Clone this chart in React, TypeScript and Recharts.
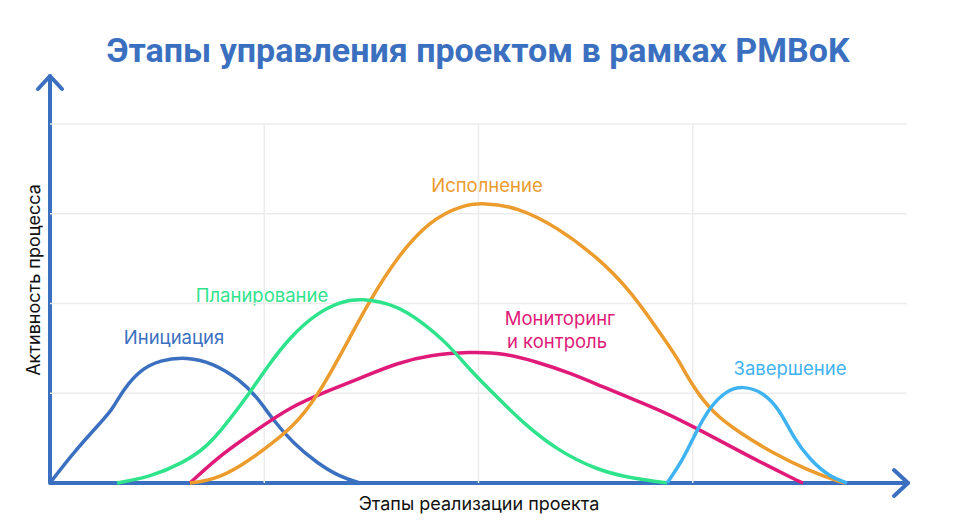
import { LineChart, Line, XAxis, YAxis, ReferenceLine } from 'recharts'

// chart values (x: stage position 0..4, y: activity)
const initiation = [
  { x: 0, y: 0 },
  { x: 0.107, y: 0.334 },
  { x: 0.247, y: 0.702 },
  { x: 0.289, y: 0.813 },
  { x: 0.341, y: 1.036 },
  { x: 0.42, y: 1.259 },
  { x: 0.513, y: 1.37 },
  { x: 0.639, y: 1.404 },
  { x: 0.761, y: 1.337 },
  { x: 0.887, y: 1.148 },
  { x: 0.966, y: 0.958 },
  { x: 1.041, y: 0.702 },
  { x: 1.134, y: 0.446 },
  { x: 1.246, y: 0.223 },
  { x: 1.354, y: 0.067 },
  { x: 1.447, y: 0 },
]

const planning = [
  { x: 0.313, y: 0 },
  { x: 0.467, y: 0.067 },
  { x: 0.621, y: 0.223 },
  { x: 0.733, y: 0.401 },
  { x: 0.826, y: 0.669 },
  { x: 0.919, y: 0.958 },
  { x: 1.013, y: 1.292 },
  { x: 1.12, y: 1.627 },
  { x: 1.246, y: 1.894 },
  { x: 1.354, y: 2.017 },
  { x: 1.447, y: 2.061 },
  { x: 1.62, y: 1.983 },
  { x: 1.741, y: 1.783 },
  { x: 1.853, y: 1.56 },
  { x: 1.96, y: 1.259 },
  { x: 2.086, y: 0.958 },
  { x: 2.208, y: 0.669 },
  { x: 2.366, y: 0.367 },
  { x: 2.553, y: 0.145 },
  { x: 2.707, y: 0.056 },
  { x: 2.847, y: 0.011 },
  { x: 2.88, y: 0 },
]

const execution = [
  { x: 0.653, y: 0 },
  { x: 0.761, y: 0.033 },
  { x: 0.887, y: 0.178 },
  { x: 1.041, y: 0.446 },
  { x: 1.167, y: 0.702 },
  { x: 1.274, y: 1.07 },
  { x: 1.386, y: 1.56 },
  { x: 1.494, y: 2.039 },
  { x: 1.62, y: 2.518 },
  { x: 1.774, y: 2.93 },
  { x: 1.928, y: 3.097 },
  { x: 2.021, y: 3.12 },
  { x: 2.18, y: 3.075 },
  { x: 2.366, y: 2.852 },
  { x: 2.553, y: 2.518 },
  { x: 2.707, y: 2.15 },
  { x: 2.847, y: 1.671 },
  { x: 2.926, y: 1.404 },
  { x: 3.001, y: 1.07 },
  { x: 3.094, y: 0.78 },
  { x: 3.22, y: 0.557 },
  { x: 3.374, y: 0.334 },
  { x: 3.533, y: 0.145 },
  { x: 3.687, y: 0.011 },
  { x: 3.71, y: 0 },
]

const monitoring = [
  { x: 0.653, y: 0 },
  { x: 0.807, y: 0.334 },
  { x: 0.966, y: 0.591 },
  { x: 1.12, y: 0.847 },
  { x: 1.307, y: 1.036 },
  { x: 1.461, y: 1.181 },
  { x: 1.62, y: 1.337 },
  { x: 1.774, y: 1.426 },
  { x: 1.96, y: 1.46 },
  { x: 2.114, y: 1.449 },
  { x: 2.273, y: 1.348 },
  { x: 2.427, y: 1.226 },
  { x: 2.581, y: 1.07 },
  { x: 2.707, y: 0.947 },
  { x: 2.847, y: 0.813 },
  { x: 3.034, y: 0.591 },
  { x: 3.267, y: 0.29 },
  { x: 3.501, y: 0.011 },
  { x: 3.515, y: 0 },
]

const closing = [
  { x: 2.88, y: 0 },
  { x: 2.954, y: 0.256 },
  { x: 3.02, y: 0.591 },
  { x: 3.08, y: 0.847 },
  { x: 3.16, y: 1.036 },
  { x: 3.235, y: 1.081 },
  { x: 3.328, y: 1.014 },
  { x: 3.407, y: 0.813 },
  { x: 3.468, y: 0.512 },
  { x: 3.547, y: 0.256 },
  { x: 3.641, y: 0.067 },
  { x: 3.72, y: 0 },
]

const gridX = [1, 2, 3]
const gridY = [1, 2, 3, 4]

const BLUE = '#3b70c0'
const GREEN = '#2ee38b'
const ORANGE = '#ec9b2d'
const MAGENTA = '#e01a78'
const SKY = '#3fb3f1'

const W = 949
const H = 522
const margin = { top: 71, right: 50, bottom: 47, left: 42 }
const left = margin.left
const bottom = H - margin.bottom
const right = W - margin.right

const labelFont = 'Inter, "Noto Sans", sans-serif'

function Decorations() {
  return (
    <g>
      <text x={470} y={42} textAnchor="middle" dominantBaseline="central"
        fontFamily="Roboto, sans-serif" fontWeight={700} fontSize={34} fill={BLUE}>
        Этапы управления проектом в рамках PMBoK
      </text>
      <path d={`M ${left} ${margin.top - 3} L ${left} ${bottom} L ${right + 1} ${bottom}`}
        fill="none" stroke={BLUE} strokeWidth={4} strokeLinejoin="round" strokeLinecap="round" />
      <path d={`M ${left - 12} ${margin.top + 10} L ${left} ${margin.top - 3} L ${left + 12} ${margin.top + 10}`}
        fill="none" stroke={BLUE} strokeWidth={4} strokeLinejoin="round" strokeLinecap="round" />
      <path d={`M ${right - 13} ${bottom - 13} L ${right + 1} ${bottom} L ${right - 13} ${bottom + 13}`}
        fill="none" stroke={BLUE} strokeWidth={4} strokeLinejoin="round" strokeLinecap="round" />
      <text x={25} y={272} transform="rotate(-90 25 272)" textAnchor="middle" dominantBaseline="central"
        fontFamily={labelFont} fontSize={18} fill="#111">
        Активность процесса
      </text>
      <text x={471} y={495} textAnchor="middle" dominantBaseline="central"
        fontFamily={labelFont} fontSize={18} fill="#111">
        Этапы реализации проекта
      </text>
      <g fontFamily={labelFont} fontSize={18.5} textAnchor="middle" dominantBaseline="central">
        <text x={166} y={329} fill={BLUE}>Инициация</text>
        <text x={254} y={287} fill={GREEN}>Планирование</text>
        <text x={479} y={177} fill={ORANGE}>Исполнение</text>
        <text x={552} y={310} fill={MAGENTA}>Мониторинг</text>
        <text x={549} y={333} fill={MAGENTA}>и контроль</text>
        <text x={782} y={360} fill={SKY}>Завершение</text>
      </g>
    </g>
  )
}

export default function App() {
  return (
    <LineChart width={W} height={H} margin={margin}>
      <XAxis type="number" dataKey="x" domain={[0, 4]} hide allowDuplicatedCategory={false} />
      <YAxis type="number" dataKey="y" domain={[0, 4.5]} hide />
      {gridY.map((v) => (
        <ReferenceLine key={'gy' + v} segment={[{ x: 0, y: v }, { x: 4, y: v }]} stroke="#ececec" strokeWidth={1.5} />
      ))}
      {gridX.map((v) => (
        <ReferenceLine key={'gx' + v} segment={[{ x: v, y: 0 }, { x: v, y: 4 }]} stroke="#ececec" strokeWidth={1.5} />
      ))}
      <Line data={initiation} dataKey="y" type="basis" stroke={BLUE} strokeWidth={3.5} dot={false} isAnimationActive={false} />
      <Line data={monitoring} dataKey="y" type="basis" stroke={MAGENTA} strokeWidth={3.5} dot={false} isAnimationActive={false} />
      <Line data={execution} dataKey="y" type="basis" stroke={ORANGE} strokeWidth={3.5} dot={false} isAnimationActive={false} />
      <Line data={planning} dataKey="y" type="basis" stroke={GREEN} strokeWidth={3.5} dot={false} isAnimationActive={false} />
      <Line data={closing} dataKey="y" type="basis" stroke={SKY} strokeWidth={3.5} dot={false} isAnimationActive={false} />
      <Decorations />
    </LineChart>
  )
}
